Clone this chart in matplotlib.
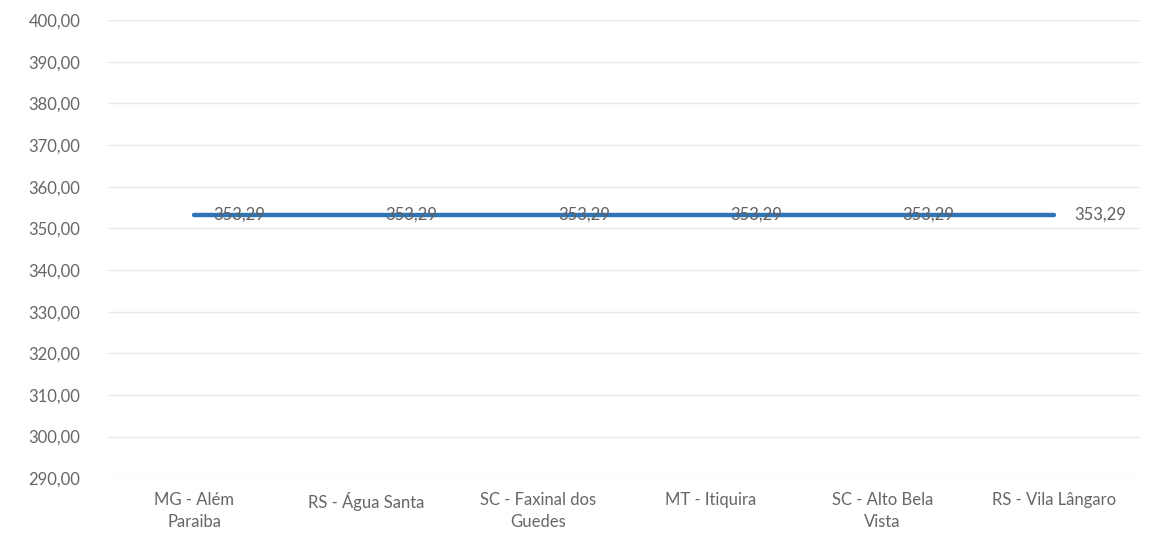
import matplotlib.pyplot as plt
from matplotlib.ticker import FuncFormatter, MultipleLocator

# dados
municipios = ['MG - Além\nParaiba', 'RS - Água Santa', 'SC - Faxinal dos\nGuedes',
              'MT - Itiquira', 'SC - Alto Bela\nVista', 'RS - Vila Lângaro']
valores = [353.29, 353.29, 353.29, 353.29, 353.29, 353.29]

plt.rcParams['font.family'] = ['Lato', 'DejaVu Sans']

fig = plt.figure(figsize=[11.52, 5.6], dpi=100)
ax = fig.add_axes([0.094, 0.146, 0.896, 0.818])

x = list(range(len(municipios)))
ax.plot(x, valores, color='#2E75B6', linewidth=3.2, solid_capstyle='round', zorder=3)

for xi, v in zip(x, valores):
    ax.annotate(f'{v:.2f}'.replace('.', ','), (xi, v), xytext=(14, 0), textcoords='offset points',
                ha='left', va='center', fontsize=12, color='#606060', zorder=4)

ax.set_ylim(290, 400)
ax.set_xlim(-0.5, len(municipios) - 0.5)
ax.yaxis.set_major_locator(MultipleLocator(10))
ax.yaxis.set_major_formatter(FuncFormatter(lambda v, p: f'{v:.2f}'.replace('.', ',')))
ax.set_xticks(x)
ax.set_xticklabels(municipios, linespacing=1.45)

ax.grid(axis='y', color='#E8E8E8', linewidth=1)
ax.set_axisbelow(True)
for s in ax.spines.values():
    s.set_visible(False)
ax.tick_params(axis='both', length=0, labelsize=12, labelcolor='#666666')
ax.tick_params(axis='y', pad=20)
ax.tick_params(axis='x', pad=10)

plt.savefig('out.png', dpi=100)
